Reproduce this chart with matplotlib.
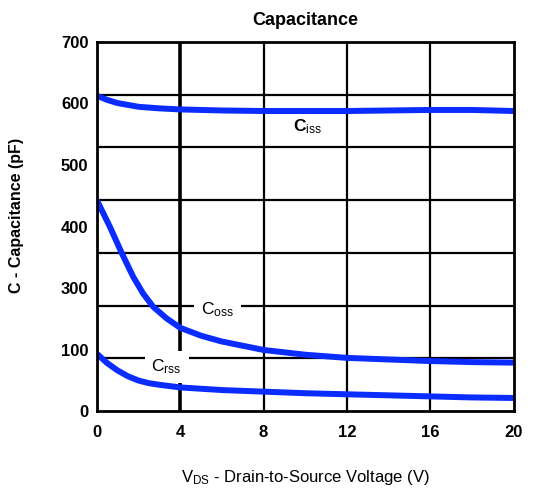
import numpy as np
import matplotlib
matplotlib.use("Agg")
import matplotlib.pyplot as plt

plt.rcParams["font.family"] = ["Liberation Sans", "DejaVu Sans"]
plt.rcParams["mathtext.fontset"] = "custom"
plt.rcParams["mathtext.rm"] = "Liberation Sans"
plt.rcParams["mathtext.it"] = "Liberation Sans"
plt.rcParams["mathtext.bf"] = "Liberation Sans:bold"

# values are in the grid's own units (grid lines every 100, 0..700)
ciss_v = [0, 0.5, 1, 2, 3, 4, 6, 8, 10, 12, 14, 16, 18, 20]
ciss = [598, 590, 584, 577, 574, 572, 570, 569, 569, 569, 570, 571, 571, 569]

coss_v = [0, 0.62, 1.18, 1.74, 2.22, 2.7, 3.34, 4, 5, 6, 8, 10, 12, 14, 16, 18, 20]
coss = [400, 350, 301, 255, 223, 198, 176, 158, 143, 132, 116, 107, 101, 98, 95, 93, 92]

crss_v = [0, 0.5, 1, 1.5, 2, 2.5, 3, 4, 6, 8, 10, 12, 14, 16, 18, 20]
crss = [109, 91, 77, 66, 58, 53, 50, 45, 40, 37, 34, 32, 30, 28, 26, 25]

x_ticks = [0, 4, 8, 12, 16, 20]
# tick labels as printed on the original (note: no "200")
y_labels = ["0", "100", "300", "400", "500", "600", "700"]

blue = "#0a2cff"

fig = plt.figure(figsize=(5.38, 4.93), dpi=100)
ax = fig.add_axes([0.180, 0.166, 0.775, 0.749])

ax.set_xlim(0, 20)
ax.set_ylim(0, 700)

# grid drawn by hand so its lines do not follow the odd y labels
for y in np.arange(100, 700, 100):
    ax.axhline(y, color="black", lw=1.6, zorder=1)
for x in x_ticks[1:-1]:
    ax.axvline(x, color="black", lw=2.6 if x == 4 else 1.6, zorder=1)

for xs, vals in ((ciss_v, ciss), (coss_v, coss), (crss_v, crss)):
    ax.plot(xs, vals, color=blue, lw=4.3, solid_capstyle="butt",
            solid_joinstyle="round", zorder=4)

box = dict(facecolor="white", edgecolor="none", pad=5)
ax.text(10.1, 540, r"C$_{\mathrm{iss}}$", fontsize=12.5, fontweight="bold",
        ha="center", va="center", zorder=3)
ax.text(5.8, 193, r"C$_{\mathrm{oss}}$", fontsize=12.5,
        ha="center", va="center", zorder=3, bbox=box)
ax.text(3.35, 84, r"C$_{\mathrm{rss}}$", fontsize=12.5,
        ha="center", va="center", zorder=3, bbox=box)

ax.set_xticks(x_ticks)
ax.set_xticklabels([str(t) for t in x_ticks], fontsize=12, fontweight="bold")
ax.set_yticks(np.linspace(0, 700, len(y_labels)))
ax.set_yticklabels(y_labels, fontsize=12, fontweight="bold")
ax.tick_params(axis="both", length=0)
ax.tick_params(axis="x", pad=10)
ax.tick_params(axis="y", pad=6)

for sp in ax.spines.values():
    sp.set_linewidth(2)
    sp.set_zorder(5)

ax.set_title("Capacitance", fontsize=13, fontweight="bold", pad=12)
ax.set_ylabel("C - Capacitance (pF)", fontsize=11.5, fontweight="bold")
ax.yaxis.set_label_coords(-0.175, 0.53)
ax.set_xlabel(r"V$_{\mathrm{DS}}$ - Drain-to-Source Voltage (V)", fontsize=12,
              labelpad=20)

fig.savefig("out.png", dpi=100)
